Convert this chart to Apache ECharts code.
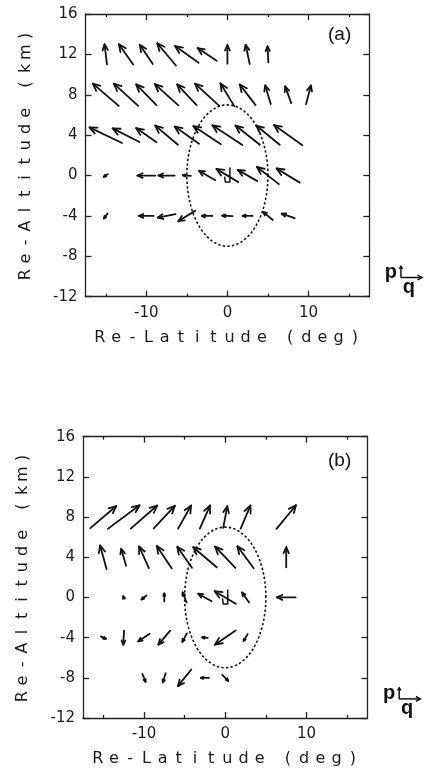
<!DOCTYPE html>
<html><head><meta charset="utf-8">
<script src="https://cdn.jsdelivr.net/npm/echarts@6/dist/echarts.min.js"></script>
<style>html,body{margin:0;padding:0;background:#fff}#c{width:424px;height:768px}</style>
</head><body><div id="c"></div>
<script>
// ---------- data ----------
const latMin = -17.5, latMax = 17.5;
const altMin = -12, altMax = 16, altStep = 4;
const latMajorTicks = [-10, 0, 10];
const latMinorTicks = [-15, -5, 5, 15];
const panelLabels = ['(a)', '(b)'];
const xName = 'Re-Latitude (deg)';
const yName = 'Re-Altitude (km)';

// arrows per altitude row: [lat, dLat, dAlt] (arrow centred on grid point)
const aAlt12 = [[-15,-0.3,2.0],[-12.5,-1.75,2.0],[-10,-1.6,1.9],[-7.5,-2.3,2.2],[-5,-2.9,1.65],[-2.5,-2.35,1.25],[0,0,1.85],[2.5,-0.5,1.9],[5,-0.1,1.6]];
const aAlt8  = [[-15,-3.2,2.2],[-12.5,-3.0,2.2],[-10,-2.5,2.05],[-7.5,-2.9,2.1],[-5,-2.4,2.05],[-2.5,-3.0,2.2],[0,-1.7,2.25],[2.5,-1.95,2.05],[5,-0.7,1.85],[7.5,-0.75,1.65],[10,0.6,1.85]];
const aAlt4  = [[-15,-4.0,1.55],[-12.5,-3.3,1.35],[-10,-2.5,1.4],[-7.5,-2.8,1.9],[-5,-3.0,1.7],[-2.5,-3.4,1.8],[0,-3.7,1.95],[2.5,-3.0,1.9],[5,-2.9,1.9],[7.5,-3.5,2.0]];
const aAlt0  = [[-15,-0.5,-0.25],[-10,-2.2,0],[-7.5,-2.0,0],[-5,-1.0,0.05],[-2.5,-2.0,0.95],[0,-2.7,1.3],[2.5,-2.4,1.1],[5,-2.7,1.7],[7.5,-2.85,1.4]];
const aAltM4 = [[-15,-0.45,-0.5],[-10,-1.8,0],[-7.5,-2.2,-0.35],[-5,-2.1,-1.05],[-2.5,-1.3,0],[0,-1.25,0.05],[2.5,-1.2,0],[5,-1.2,0.8],[7.5,-1.6,0.45]];

const bAlt8  = [[-15,3.2,2.2],[-12.5,3.9,2.35],[-10,3.25,2.3],[-7.5,2.6,2.25],[-5,1.6,2.3],[-2.5,1.25,2.3],[0,0.5,2.15],[2.5,1.2,2.3],[7.5,2.4,2.35]];
const bAlt4  = [[-15,-0.8,2.35],[-12.5,-0.6,1.7],[-10,-1.2,2.15],[-7.5,-1.85,2.25],[-5,-1.8,2.1],[-2.5,-2.9,2.0],[0,-2.5,2.1],[2.5,-2.0,2.2],[7.5,0,2.0]];
const bAlt0  = [[-12.5,-0.1,0.25],[-10,-0.6,-0.4],[-7.5,0,0.8],[-5,-0.5,1.0],[-2.5,-1.65,0.75],[0,-2.6,1.25],[2.5,-0.85,1.0],[7.5,-2.3,0]];
const bAltM4 = [[-15,0.6,-0.25],[-12.5,-0.1,-1.4],[-10,-1.4,-0.75],[-7.5,-1.45,-1.4],[-5,-0.55,-0.85],[-2.5,-0.7,0.05],[0,-2.55,-1.4],[2.5,-0.5,-0.7]];
const bAltM8 = [[-10,0.4,-0.8],[-7.5,-0.35,-0.9],[-5,-1.65,-1.65],[-2.5,-1.0,0],[0,0.75,-0.6]];

const panelARows = [[12,aAlt12],[8,aAlt8],[4,aAlt4],[0,aAlt0],[-4,aAltM4]];
const panelBRows = [[8,bAlt8],[4,bAlt4],[0,bAlt0],[-4,bAltM4],[-8,bAltM8]];

// ellipse: [centre lat, centre alt, semi-axis lat, semi-axis alt]
const ellipse = [0, 0, 5, 7];
// key vectors: [lat, alt, q length (deg), p length (km)]
const keyVector = [21.4, -10.1, 2.6, 1.1];

// ---------- build ----------
function rowsToData(rows){
  const out = [];
  rows.forEach(([alt, arr]) => arr.forEach(([lat,u,v]) => out.push([lat, alt, u, v])));
  return out;
}
const INK = '#121212';
function arrowHead(p1, ang, h, spread){
  const a1 = ang + Math.PI - spread, a2 = ang + Math.PI + spread;
  return [[p1[0]+h*Math.cos(a1), p1[1]+h*Math.sin(a1)], p1, [p1[0]+h*Math.cos(a2), p1[1]+h*Math.sin(a2)]];
}
function renderArrow(params, api){
  const x = api.value(0), y = api.value(1), u = api.value(2), v = api.value(3);
  const p0 = api.coord([x-u/2, y-v/2]);
  const p1 = api.coord([x+u/2, y+v/2]);
  const dx = p1[0]-p0[0], dy = p1[1]-p0[1];
  const len = Math.hypot(dx, dy);
  const h = Math.max(2.6, Math.min(8, len*0.32));
  const ang = Math.atan2(dy, dx);
  return {type:'group', children:[
    {type:'line', shape:{x1:p0[0],y1:p0[1],x2:p1[0],y2:p1[1]}, style:{stroke:INK, lineWidth:1.8, lineCap:'round'}},
    {type:'polyline', shape:{points:arrowHead(p1, ang, h, 0.42)}, style:{stroke:INK, lineWidth:1.8, fill:null, lineJoin:'round', lineCap:'round'}}
  ]};
}
function renderEllipse(params, api){
  const cx = api.value(0), cy = api.value(1), ra = api.value(2), rb = api.value(3);
  const pts = [];
  for (let i = 0; i <= 160; i++){
    const t = i/160*2*Math.PI;
    pts.push(api.coord([cx+ra*Math.cos(t), cy+rb*Math.sin(t)]));
  }
  const c = api.coord([cx, cy]);
  const mk = [[2.5,-8],[2.5,6.5],[-2,6.5],[-2.8,1]].map(o => [c[0]+o[0], c[1]+o[1]]);
  return {type:'group', children:[
    {type:'polyline', shape:{points:pts}, style:{stroke:INK, lineWidth:1.6, lineDash:[2.4,2.2], fill:null}},
    {type:'polyline', shape:{points:mk}, style:{stroke:INK, lineWidth:1.5, fill:null}}
  ]};
}
function renderKey(params, api){
  const x = api.value(0), y = api.value(1), ql = api.value(2), pl = api.value(3);
  const o = api.coord([x, y]);
  const q = api.coord([x+ql, y]);
  const p = api.coord([x, y+pl]);
  return {type:'group', children:[
    {type:'line', shape:{x1:o[0],y1:o[1],x2:q[0],y2:q[1]}, style:{stroke:INK, lineWidth:1.5}},
    {type:'polyline', shape:{points:arrowHead(q, 0, 5, 0.5)}, style:{stroke:INK, lineWidth:1.5, fill:null}},
    {type:'line', shape:{x1:o[0],y1:o[1],x2:p[0],y2:p[1]}, style:{stroke:INK, lineWidth:1.5}},
    {type:'polyline', shape:{points:arrowHead(p, -Math.PI/2, 3, 0.6)}, style:{stroke:INK, lineWidth:1.5, fill:null}},
    {type:'text', style:{text:'p', x:o[0]-10, y:o[1]-5, align:'center', verticalAlign:'middle', font:'bold 20px "Liberation Sans"', fill:INK}},
    {type:'text', style:{text:'q', x:o[0]+8, y:o[1]+10, align:'center', verticalAlign:'middle', font:'bold 20px "Liberation Sans"', fill:INK}}
  ]};
}
function spaced(s){ return s.split('').map(ch => (ch === ' ' ? '{s|' : '{c|') + ch + '}').join(''); }
const nameRich = {
  c:{width:16.2, align:'center', fontSize:16, fontFamily:'DejaVu Sans', color:'#1a1a1a'},
  s:{width:12, align:'center', fontSize:16, fontFamily:'DejaVu Sans', color:'#1a1a1a'}
};
const lineSt = {color:'#222', width:1.3};

function xAxes(gi){
  const base = {gridIndex:gi, type:'value', min:latMin, max:latMax, splitLine:{show:false}};
  return [
    Object.assign({}, base, {position:'bottom',
      axisLine:{show:true, onZero:false, lineStyle:lineSt},
      axisTick:{show:true, inside:true, length:6, customValues:latMajorTicks, lineStyle:lineSt},
      axisLabel:{show:true, customValues:latMajorTicks, margin:9, color:'#1a1a1a', fontSize:15, fontFamily:'DejaVu Sans'},
      name:spaced(xName), nameLocation:'middle', nameGap:33, nameTextStyle:{rich:nameRich}}),
    Object.assign({}, base, {position:'bottom',
      axisLine:{show:false, onZero:false},
      axisTick:{show:true, inside:true, length:3, customValues:latMinorTicks, lineStyle:lineSt},
      axisLabel:{show:false}}),
    Object.assign({}, base, {position:'top',
      axisLine:{show:true, onZero:false, lineStyle:lineSt},
      axisTick:{show:true, inside:true, length:6, customValues:latMajorTicks, lineStyle:lineSt},
      axisLabel:{show:false}}),
    Object.assign({}, base, {position:'top',
      axisLine:{show:false, onZero:false},
      axisTick:{show:true, inside:true, length:3, customValues:latMinorTicks, lineStyle:lineSt},
      axisLabel:{show:false}})
  ];
}
function yAxes(gi){
  const base = {gridIndex:gi, type:'value', min:altMin, max:altMax, interval:altStep, splitLine:{show:false}};
  return [
    Object.assign({}, base, {position:'left',
      axisLine:{show:true, onZero:false, lineStyle:lineSt},
      axisTick:{show:true, inside:true, length:6, lineStyle:lineSt},
      axisLabel:{show:true, margin:8, color:'#1a1a1a', fontSize:15, fontFamily:'DejaVu Sans'},
      name:spaced(yName), nameLocation:'middle', nameRotate:90, nameGap:52, nameTextStyle:{rich:nameRich}}),
    Object.assign({}, base, {position:'right',
      axisLine:{show:true, onZero:false, lineStyle:lineSt},
      axisTick:{show:true, inside:true, length:6, lineStyle:lineSt},
      axisLabel:{show:false}})
  ];
}
function panelSeries(gi, rows){
  const xi = gi*4, yi = gi*2;
  return [
    {type:'custom', xAxisIndex:xi, yAxisIndex:yi, renderItem:renderEllipse, data:[ellipse], silent:true},
    {type:'custom', xAxisIndex:xi, yAxisIndex:yi, renderItem:renderArrow, data:rowsToData(rows), silent:true},
    {type:'custom', xAxisIndex:xi, yAxisIndex:yi, renderItem:renderKey, data:[keyVector], clip:false, silent:true}
  ];
}

const chart = echarts.init(document.getElementById('c'), null, {renderer:'canvas'});
chart.setOption({
  animation:false,
  backgroundColor:'#fff',
  title: panelLabels.map((t, i) => ({text:t, left:328, top: i === 0 ? 25 : 451, padding:0,
    textStyle:{fontFamily:'Liberation Sans', fontSize:19, fontWeight:'normal', color:INK}})),
  grid:[
    {left:85.5, top:14, width:283.8, height:282.7},
    {left:83, top:436.7, width:284.5, height:282.3}
  ],
  xAxis:[...xAxes(0), ...xAxes(1)],
  yAxis:[...yAxes(0), ...yAxes(1)],
  series:[...panelSeries(0, panelARows), ...panelSeries(1, panelBRows)]
});
</script></body></html>
